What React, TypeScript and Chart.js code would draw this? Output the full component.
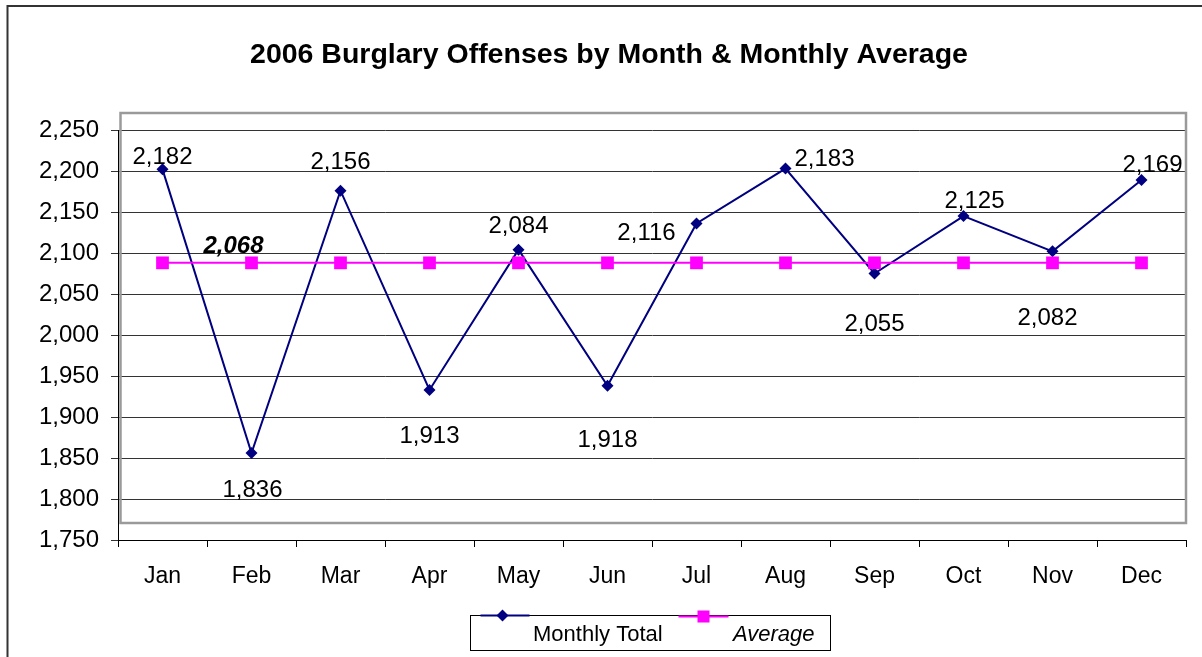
import React, { useEffect, useRef } from "react";
import { Chart, registerables } from "chart.js";

Chart.register(...registerables);

const titleText = "2006 Burglary Offenses by Month & Monthly Average";
const months = ["Jan", "Feb", "Mar", "Apr", "May", "Jun", "Jul", "Aug", "Sep", "Oct", "Nov", "Dec"];
// plotted positions
const monthlyTotal = [2202, 1856, 2176, 1933, 2104, 1938, 2136, 2203, 2075, 2145, 2102, 2189];
// printed data labels
const monthlyLabels = ["2,182", "1,836", "2,156", "1,913", "2,084", "1,918", "2,116", "2,183", "2,055", "2,125", "2,082", "2,169"];
const averageValues = [2088, 2088, 2088, 2088, 2088, 2088, 2088, 2088, 2088, 2088, 2088, 2088];
const averageLabel = "2,068";
const yMin = 1750;
const yMax = 2250;
const yStep = 50;

// label placement offsets relative to each point (styling)
const labelOffsets: [number, number][] = [
  [0, -14], [1, 35], [0, -30], [0, 44], [0, -25], [0, 53],
  [-50, 8], [39, -11], [0, 49], [11, -17], [-5, 65], [11, -17],
];
const avgLabelIndex = 1;
const avgLabelOffset: [number, number] = [-18, -18];

const FONT = '"Liberation Sans", Arial, sans-serif';
const NAVY = "#000080";
const MAGENTA = "#FF00FF";

const decorPlugin = {
  id: "decor",
  beforeDraw(chart: any) {
    const ctx = chart.ctx;
    ctx.save();
    ctx.fillStyle = "#fff";
    ctx.fillRect(0, 0, chart.width, chart.height);
    ctx.strokeStyle = "#333";
    ctx.lineWidth = 2;
    ctx.strokeRect(7.5, 6, chart.width + 50, chart.height + 50);
    ctx.fillStyle = "#000";
    ctx.font = `bold 28.5px ${FONT}`;
    ctx.textAlign = "center";
    ctx.textBaseline = "alphabetic";
    ctx.fillText(titleText, 609, 63);
    ctx.restore();
  },
  beforeDatasetsDraw(chart: any) {
    const { ctx, chartArea } = chart;
    const { left, right, top, bottom } = chartArea;
    ctx.save();
    ctx.strokeStyle = "#9a9a9a";
    ctx.lineWidth = 2.5;
    ctx.strokeRect(left + 2.5, top - 17, right - left - 2.5, bottom - top);
    ctx.restore();
  },
  afterDatasetsDraw(chart: any) {
    const ctx = chart.ctx;
    const meta = chart.getDatasetMeta(0);
    const size = 24;
    ctx.save();
    ctx.fillStyle = "#000";
    ctx.textAlign = "center";
    ctx.textBaseline = "alphabetic";
    ctx.font = `${size}px ${FONT}`;
    meta.data.forEach((pt: any, i: number) => {
      const [dx, dy] = labelOffsets[i];
      ctx.fillText(monthlyLabels[i], pt.x + dx, pt.y + dy + size * 0.358);
    });
    const ameta = chart.getDatasetMeta(1);
    const ap = ameta.data[avgLabelIndex];
    ctx.font = `italic bold ${size}px ${FONT}`;
    ctx.fillText(averageLabel, ap.x + avgLabelOffset[0], ap.y + avgLabelOffset[1] + size * 0.358);
    ctx.restore();
  },
  afterDraw(chart: any) {
    const { ctx, chartArea } = chart;
    const cx = (chartArea.left + chartArea.right) / 2 - 2;
    const boxW = 360;
    const boxH = 35;
    const bx = Math.round(cx - boxW / 2) + 0.5;
    const by = chartArea.bottom + 75.5;
    ctx.save();
    ctx.strokeStyle = "#000";
    ctx.lineWidth = 1;
    ctx.strokeRect(bx, by, boxW, boxH);
    // Monthly total sample
    ctx.strokeStyle = NAVY;
    ctx.lineWidth = 2;
    ctx.beginPath();
    ctx.moveTo(bx + 10, by);
    ctx.lineTo(bx + 59, by);
    ctx.stroke();
    ctx.fillStyle = NAVY;
    const dxm = bx + 32;
    ctx.beginPath();
    ctx.moveTo(dxm, by - 6);
    ctx.lineTo(dxm + 6, by);
    ctx.lineTo(dxm, by + 6);
    ctx.lineTo(dxm - 6, by);
    ctx.closePath();
    ctx.fill();
    // Average sample
    ctx.strokeStyle = MAGENTA;
    ctx.beginPath();
    ctx.moveTo(bx + 208, by + 1);
    ctx.lineTo(bx + 258, by + 1);
    ctx.stroke();
    ctx.fillStyle = MAGENTA;
    ctx.fillRect(bx + 233 - 6, by + 1 - 6, 12, 12);
    // texts
    ctx.fillStyle = "#000";
    ctx.textAlign = "left";
    ctx.textBaseline = "alphabetic";
    ctx.font = `22px ${FONT}`;
    ctx.fillText("Monthly Total", bx + 62.5, by + 25.5);
    ctx.font = `italic 22px ${FONT}`;
    ctx.fillText("Average", bx + 262.5, by + 25.5);
    ctx.restore();
  },
};

export default function App() {
  const ref = useRef<HTMLCanvasElement>(null);
  useEffect(() => {
    if (!ref.current) return;
    const chart = new Chart(ref.current, {
      type: "line",
      data: {
        labels: months,
        datasets: [
          {
            label: "Monthly Total",
            data: monthlyTotal,
            borderColor: NAVY,
            backgroundColor: NAVY,
            borderWidth: 2,
            pointStyle: "rectRot",
            pointRadius: 6,
            pointBorderWidth: 0,
            pointBackgroundColor: NAVY,
            tension: 0,
            order: 2,
          },
          {
            label: "Average",
            data: averageValues,
            borderColor: MAGENTA,
            backgroundColor: MAGENTA,
            borderWidth: 2,
            pointStyle: "rect",
            pointRadius: 9,
            pointBorderWidth: 0,
            pointBackgroundColor: MAGENTA,
            tension: 0,
            order: 1,
          },
        ],
      },
      options: {
        responsive: false,
        animation: false,
        layout: { padding: { top: 130, left: 0, right: 16, bottom: 0 } },
        plugins: {
          legend: { display: false },
          title: { display: false },
          tooltip: { enabled: false },
        },
        scales: {
          x: {
            type: "category",
            offset: true,
            grid: {
              offset: true,
              drawOnChartArea: false,
              drawTicks: true,
              tickLength: 7,
              color: "#000",
            },
            border: { display: true, color: "#000", width: 1 },
            ticks: {
              color: "#000",
              font: { family: FONT, size: 23 },
              padding: 16,
              autoSkip: false,
              maxRotation: 0,
            },
            afterFit: (scale: any) => {
              scale.height = 117;
            },
          },
          y: {
            min: yMin,
            max: yMax,
            grid: {
              color: "#333",
              drawTicks: true,
              tickLength: 7,
            },
            border: { display: true, color: "#000", width: 1 },
            ticks: {
              stepSize: yStep,
              color: "#000",
              font: { family: FONT, size: 24 },
              padding: 12,
              callback: (v: any) => Number(v).toLocaleString("en-US"),
            },
            afterFit: (scale: any) => {
              scale.width = 118;
            },
          },
        },
      },
      plugins: [decorPlugin],
    });
    return () => chart.destroy();
  }, []);
  return (
    <div style={{ position: "fixed", left: 0, top: 0, width: 1202, height: 657 }}>
      <canvas ref={ref} width={1202} height={657} style={{ display: "block" }} />
    </div>
  );
}
